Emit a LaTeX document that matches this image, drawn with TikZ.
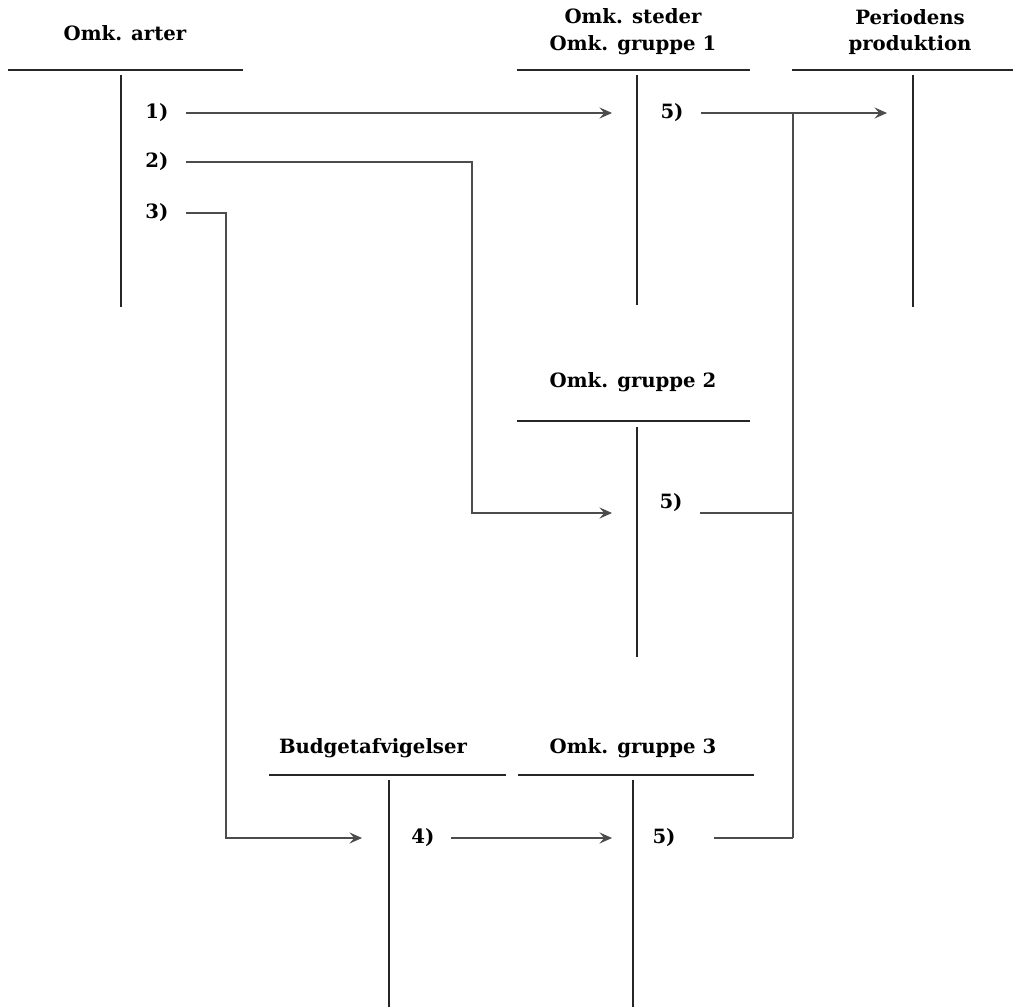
\documentclass[tikz,border=0pt]{standalone}
\usepackage{fontspec}
\setmainfont{DejaVu Serif}
\usetikzlibrary{arrows.meta}
\begin{document}
\begin{tikzpicture}[x=0.025cm,y=-0.025cm,
  tline/.style={line width=1.1pt, black!85},
  conn/.style={line width=0.8pt, black!70},
  arr/.style={conn,-{Stealth[length=9pt,width=8pt,inset=3.5pt]}},
  title/.style={font=\fontsize{14}{19}\selectfont\bfseries, align=center, inner sep=0pt},
  entry/.style={font=\fontsize{14}{19}\selectfont\bfseries, inner sep=0pt}]
\useasboundingbox (0,0) rectangle (1013,1007);

% ---- T-accounts ----
% Omk. arter
\node[title] (hA) at (125,33) {Omk. arter};
\coordinate (aL) at (8,70); \coordinate (aR) at (243,70);
\coordinate (aT) at (121,75); \coordinate (aB) at (121,307);
\draw[tline] (aL) -- (aR); \draw[tline] (aT) -- (aB);
% Omk. steder / Omk. gruppe 1
\node[title] (hG1) at (633,32) {Omk. steder\\Omk. gruppe 1};
\coordinate (g1L) at (517,70); \coordinate (g1R) at (750,70);
\coordinate (g1T) at (637,75); \coordinate (g1B) at (637,305);
\draw[tline] (g1L) -- (g1R); \draw[tline] (g1T) -- (g1B);
% Periodens produktion
\node[title] (hP) at (910,32) {Periodens\\produktion};
\coordinate (pL) at (792,70); \coordinate (pR) at (1013,70);
\coordinate (pT) at (913,75); \coordinate (pB) at (913,307);
\draw[tline] (pL) -- (pR); \draw[tline] (pT) -- (pB);
% Omk. gruppe 2
\node[title] (hG2) at (633,382) {Omk. gruppe 2};
\coordinate (g2L) at (517,421); \coordinate (g2R) at (750,421);
\coordinate (g2T) at (637,427); \coordinate (g2B) at (637,657);
\draw[tline] (g2L) -- (g2R); \draw[tline] (g2T) -- (g2B);
% Budgetafvigelser
\node[title] (hB) at (373,748) {Budgetafvigelser};
\coordinate (bL) at (269,775); \coordinate (bR) at (506,775);
\coordinate (bT) at (389,780); \coordinate (bB) at (389,1007);
\draw[tline] (bL) -- (bR); \draw[tline] (bT) -- (bB);
% Omk. gruppe 3
\node[title] (hG3) at (633,748) {Omk. gruppe 3};
\coordinate (g3L) at (518,775); \coordinate (g3R) at (754,775);
\coordinate (g3T) at (633,780); \coordinate (g3B) at (633,1007);
\draw[tline] (g3L) -- (g3R); \draw[tline] (g3T) -- (g3B);

% ---- entries ----
\node[entry] (e1) at (157,113) {1)};
\node[entry] (e2) at (157,162) {2)};
\node[entry] (e3) at (157,213) {3)};
\node[entry] (f1) at (672,113) {5)};
\node[entry] (f2) at (671,503) {5)};
\node[entry] (e4) at (423,838) {4)};
\node[entry] (f3) at (664,838) {5)};

% ---- connector points ----
\coordinate (t1) at (612,113);
\coordinate (t5) at (887,113);
\coordinate (j1) at (793,113);
\coordinate (j2) at (793,513);
\coordinate (j3) at (793,838);
\coordinate (k2) at (472,513);
\coordinate (t2) at (612,513);
\coordinate (k3) at (226,838);
\coordinate (t4) at (362,838);
\coordinate (t6) at (612,838);

% ---- connectors ----
\draw[arr] (e1.east) ++(17,0) -- (t1);
\draw[arr] (e2.east) ++(17,0) -| (k2) -- (t2);
\draw[arr] (e3.east) ++(17,0) -| (k3) -- (t4);
\draw[arr] (f1.east) ++(17,0) -- (t5);
\draw[conn] (j1) -- (j3);
\draw[conn] (f2.east |- j2) ++(17,0) -- (j2);
\draw[conn] (f3.east) ++(38,0) -- (j3);
\draw[arr] (e4.east) ++(16,0) -- (t6);
\end{tikzpicture}
\end{document}
